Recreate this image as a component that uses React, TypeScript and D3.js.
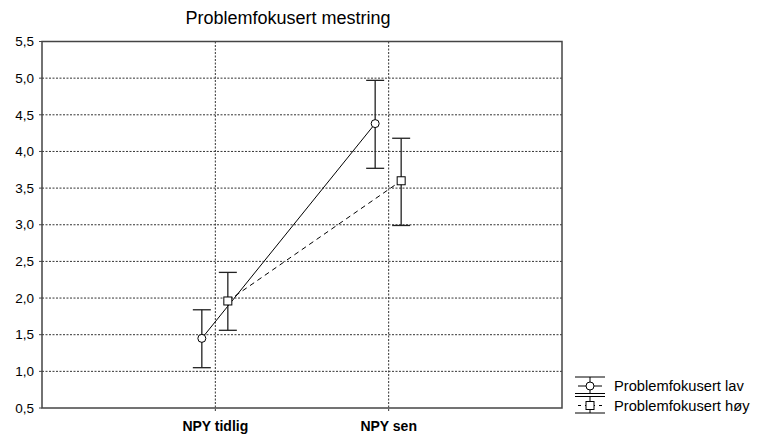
import React, { useRef, useEffect } from 'react';
import * as d3 from 'd3';

const categories = ['NPY tidlig', 'NPY sen'];
const yTicks = [0.5, 1.0, 1.5, 2.0, 2.5, 3.0, 3.5, 4.0, 4.5, 5.0, 5.5];

const lavMean = [1.45, 4.38];
const lavLow = [1.05, 3.77];
const lavHigh = [1.84, 4.97];

const hoyMean = [1.96, 3.6];
const hoyLow = [1.56, 2.99];
const hoyHigh = [2.35, 4.18];

const seriesNames = ['Problemfokusert lav', 'Problemfokusert høy'];

const fmt = (v: number) => d3.format('.1f')(v).replace('.', ',');

const App = () => {
  const ref = useRef<SVGSVGElement>(null);

  useEffect(() => {
    const svg = d3.select(ref.current);
    svg.selectAll('*').remove();

    const width = 784;
    const height = 435;
    const margin = { top: 41.5, right: 222, bottom: 27, left: 42 };
    const innerW = width - margin.left - margin.right;
    const innerH = height - margin.top - margin.bottom;

    const font = '"Liberation Sans", Arial, sans-serif';

    const x = d3.scalePoint<string>().domain(categories).range([0, innerW]).padding(1);
    const y = d3.scaleLinear().domain([0.5, 5.5]).range([innerH, 0]);

    const g = svg.append('g').attr('transform', `translate(${margin.left},${margin.top})`);

    // Title
    svg.append('text')
      .attr('x', 288)
      .attr('y', 24)
      .attr('text-anchor', 'middle')
      .style('font-family', font)
      .style('font-size', '18px')
      .attr('fill', '#000')
      .text('Problemfokusert mestring');

    // Horizontal grid
    g.selectAll('.hgrid')
      .data(yTicks.slice(1, -1))
      .join('line')
      .attr('x1', 0)
      .attr('x2', innerW)
      .attr('y1', d => y(d))
      .attr('y2', d => y(d))
      .attr('stroke', '#333')
      .attr('stroke-width', 1)
      .attr('stroke-dasharray', '2,1.5');

    // Vertical grid
    g.selectAll('.vgrid')
      .data(categories)
      .join('line')
      .attr('x1', d => x(d)!)
      .attr('x2', d => x(d)!)
      .attr('y1', 0)
      .attr('y2', innerH + 4)
      .attr('stroke', '#333')
      .attr('stroke-width', 1)
      .attr('stroke-dasharray', '2,1.5');

    // Frame
    g.append('rect')
      .attr('x', 0)
      .attr('y', 0)
      .attr('width', innerW)
      .attr('height', innerH)
      .attr('fill', 'none')
      .attr('stroke', '#444')
      .attr('stroke-width', 1.5);

    // Y ticks and labels
    g.selectAll('.ytick')
      .data(yTicks)
      .join('line')
      .attr('x1', -3)
      .attr('x2', 0)
      .attr('y1', d => y(d))
      .attr('y2', d => y(d))
      .attr('stroke', '#444');

    g.selectAll('.ylab')
      .data(yTicks)
      .join('text')
      .attr('x', -8)
      .attr('y', d => y(d))
      .attr('dy', '0.35em')
      .attr('text-anchor', 'end')
      .style('font-family', font)
      .style('font-size', '13.5px')
      .attr('fill', '#000')
      .text(d => fmt(d));

    // X labels
    g.selectAll('.xlab')
      .data(categories)
      .join('text')
      .attr('x', d => x(d)!)
      .attr('y', innerH + 22.5)
      .attr('text-anchor', 'middle')
      .style('font-family', font)
      .style('font-size', '14px')
      .style('font-weight', 'bold')
      .attr('fill', '#000')
      .text(d => d);

    const series = [
      { mean: lavMean, low: lavLow, high: lavHigh, offset: -13.5, dash: null, marker: 'circle' },
      { mean: hoyMean, low: hoyLow, high: hoyHigh, offset: 12.5, dash: '5,4', marker: 'square' },
    ];

    const cap = 9;

    series.forEach(s => {
      const pts = categories.map((c, i) => [x(c)! + s.offset, y(s.mean[i])] as [number, number]);

      // Error bars
      categories.forEach((c, i) => {
        const cx = x(c)! + s.offset;
        const eb = g.append('g').attr('stroke', '#222').attr('stroke-width', 1.3);
        eb.append('line').attr('x1', cx).attr('x2', cx).attr('y1', y(s.low[i])).attr('y2', y(s.high[i]));
        eb.append('line').attr('x1', cx - cap).attr('x2', cx + cap).attr('y1', y(s.low[i])).attr('y2', y(s.low[i]));
        eb.append('line').attr('x1', cx - cap).attr('x2', cx + cap).attr('y1', y(s.high[i])).attr('y2', y(s.high[i]));
      });

      // Connecting line
      g.append('path')
        .attr('d', d3.line()(pts))
        .attr('fill', 'none')
        .attr('stroke', '#000')
        .attr('stroke-width', 1)
        .attr('stroke-dasharray', s.dash);

      // Markers
      pts.forEach(([px, py]) => {
        if (s.marker === 'circle') {
          g.append('circle').attr('cx', px).attr('cy', py).attr('r', 4)
            .attr('fill', '#fff').attr('stroke', '#000').attr('stroke-width', 1);
        } else {
          g.append('rect').attr('x', px - 4).attr('y', py - 4).attr('width', 8).attr('height', 8)
            .attr('fill', '#fff').attr('stroke', '#000').attr('stroke-width', 1);
        }
      });
    });

    // Legend
    const legend = svg.append('g');
    seriesNames.forEach((name, i) => {
      const cy = 386 + i * 19.5;
      const lx = 590;
      const lg = legend.append('g').attr('stroke', '#000').attr('stroke-width', 1);
      lg.append('line').attr('x1', lx - 15).attr('x2', lx + 15).attr('y1', cy - 9).attr('y2', cy - 9);
      lg.append('line').attr('x1', lx - 15).attr('x2', lx + 15).attr('y1', cy + 7.5).attr('y2', cy + 7.5);
      lg.append('line').attr('x1', lx).attr('x2', lx).attr('y1', cy - 9).attr('y2', cy + 7.5);
      lg.append('line').attr('x1', lx - 12).attr('x2', lx + 12).attr('y1', cy).attr('y2', cy)
        .attr('stroke-dasharray', i === 1 ? '3,4' : null);
      if (i === 0) {
        lg.append('circle').attr('cx', lx).attr('cy', cy).attr('r', 4).attr('fill', '#fff');
      } else {
        lg.append('rect').attr('x', lx - 4).attr('y', cy - 4).attr('width', 8).attr('height', 8).attr('fill', '#fff');
      }
      legend.append('text')
        .attr('x', 614)
        .attr('y', cy)
        .attr('dy', '0.36em')
        .style('font-family', font)
        .style('font-size', '14.7px')
        .attr('fill', '#000')
        .text(name);
    });
  }, []);

  return (
    <svg
      ref={ref}
      width={784}
      height={435}
      style={{ position: 'absolute', left: 0, top: 0, background: '#fff' }}
    />
  );
};

export default App;
